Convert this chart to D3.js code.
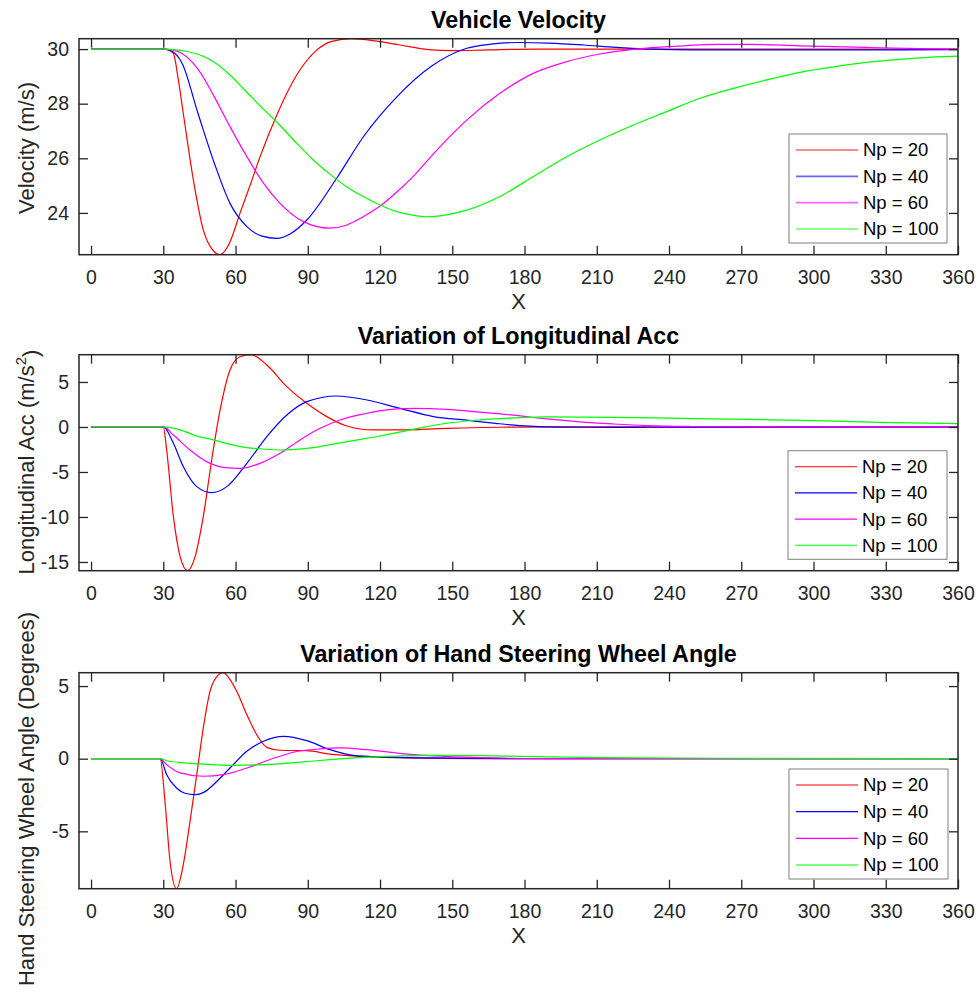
<!DOCTYPE html>
<html>
<head>
<meta charset="utf-8">
<script src="https://cdn.jsdelivr.net/npm/d3@7"></script>
<style>
  html, body { margin: 0; padding: 0; background: #fff; }
  svg { display: block; font-family: "Liberation Sans", Arial, Helvetica, sans-serif; }
</style>
</head>
<body>
<svg id="chart" width="979" height="1003"></svg>
<script>
// ---- data --------------------------------------------------------------
const seriesNames = ["Np = 20", "Np = 40", "Np = 60", "Np = 100"];
const seriesColors = ["#ff0000", "#0000ff", "#ff00ff", "#00ff00"];
const xTicks = [0, 30, 60, 90, 120, 150, 180, 210, 240, 270, 300, 330, 360];

// Vehicle velocity (m/s)
const velNp20 = [[0,30],[30,30],[32,29.97],[34.2,29.84],[36.2,28.9],[38.3,27.65],[42.5,25.2],[46.6,23.38],[50,22.7],[53.6,22.47],[57.5,22.9],[61.9,24.0],[66,25.0],[70.2,26.06],[77.1,27.58],[85.4,29.05],[93.7,29.96],[100,30.28],[108,30.38],[118,30.3],[128.3,30.15],[140,29.98],[150,29.94],[165,29.97],[185,30.0],[360,30]];
const velNp40 = [[0,30],[30,30],[33,29.95],[37.8,29.48],[44.4,27.65],[51.2,25.82],[57.7,24.35],[64.7,23.5],[71,23.15],[77.1,23.07],[83,23.25],[89.6,23.74],[102,25.27],[113.1,26.79],[127,28.25],[141,29.35],[156,30.03],[166,30.18],[176.8,30.24],[190,30.22],[204.4,30.15],[218,30.06],[232,30.0],[250,29.97],[300,29.97],[360,29.98]];
const velNp60 = [[0,30],[30,30],[33,29.98],[37.8,29.84],[44.7,29.23],[51.2,28.25],[57.7,27.16],[64.7,26.06],[71.6,25.09],[78.5,24.35],[88.2,23.68],[99.2,23.44],[106,23.55],[113,23.86],[120,24.25],[128,24.85],[135,25.45],[141.5,26.1],[156,27.4],[169.8,28.38],[183.6,29.11],[197.5,29.54],[211.3,29.82],[225,29.99],[246,30.12],[260,30.17],[274,30.17],[294,30.12],[322,30.06],[344,30.02],[360,30.0]];
const velNp100 = [[0,30],[30,30],[36,29.96],[40,29.91],[44.7,29.8],[51.2,29.52],[57.7,29.05],[64.7,28.42],[71.6,27.8],[78.5,27.2],[85.4,26.55],[92.3,25.94],[99.2,25.42],[106.1,24.96],[113,24.6],[120,24.29],[127,24.05],[133,23.93],[139.4,23.86],[147,23.92],[156,24.1],[169.8,24.6],[183.6,25.33],[197.5,26.06],[211.3,26.67],[225.2,27.22],[239,27.71],[252.9,28.2],[266.7,28.56],[280.6,28.87],[294.4,29.15],[308.3,29.35],[322,29.51],[344.3,29.68],[360,29.74]];
const velTicks = [24, 26, 28, 30];

// Longitudinal acceleration (m/s^2)
const accNp20 = [[0,0],[30,0],[31.4,-2.56],[34.2,-9.96],[37,-14.4],[40.1,-15.97],[43.2,-14.4],[46.6,-9.96],[50.1,-3.67],[53.6,1.89],[57.7,6.33],[61.9,7.8],[66.4,8.03],[73,6.89],[81.3,4.48],[89.6,2.63],[97.9,1.15],[106.2,0.11],[117.2,-0.33],[127,-0.33],[147.7,-0.15],[170,-0.03],[200,0],[360,0]];
const accNp40 = [[0,0],[30,0],[34.2,-1.81],[38.3,-4.4],[43.9,-6.63],[50.1,-7.3],[56.4,-6.63],[64.7,-4.04],[73,-1.07],[81.3,1.33],[89.6,2.81],[102,3.44],[114.5,3.0],[128.3,2.07],[142.2,1.15],[156,0.75],[168,0.4],[178,0.15],[195,-0.02],[220,-0.04],[260,-0.02],[360,0]];
const accNp60 = [[0,0],[30,0],[34.2,-0.89],[41.1,-2.56],[48,-3.85],[55,-4.48],[61.9,-4.6],[70.2,-4.04],[78.5,-2.93],[86.8,-1.44],[95.1,-0.15],[103.4,0.78],[113.1,1.44],[127,2.0],[134,2.07],[147.7,1.96],[161.5,1.66],[175.4,1.32],[189.2,0.89],[203,0.56],[216.9,0.33],[230.8,0.15],[250,0.05],[280,0],[360,0]];
const accNp100 = [[0,0],[30,0],[37,-0.33],[43.9,-1.0],[50.8,-1.44],[57.7,-1.93],[64.7,-2.3],[73,-2.48],[78.5,-2.56],[92.3,-2.3],[106.2,-1.63],[120,-1.0],[133.8,-0.26],[147.7,0.41],[161.5,0.78],[178.2,1.04],[189.2,1.12],[216.9,1.07],[244.6,0.96],[272.3,0.85],[300,0.7],[327.7,0.52],[360,0.37]];
const accTicks = [-15, -10, -5, 0, 5];

// Hand steering wheel angle (degrees)
const hswNp20 = [[0,0],[28.7,0],[30.7,-2.93],[32.8,-7.06],[35.5,-8.95],[38.3,-7.3],[41.1,-4.31],[43.9,-1.1],[46.6,2.11],[49.4,4.64],[52,5.6],[54.9,5.92],[57.5,5.5],[60.5,4.64],[64.7,3.03],[68.8,1.65],[73,0.78],[78.5,0.58],[89.6,0.55],[99.2,0.32],[113,0.16],[130,0.05],[160,0],[360,0]];
const hswNp40 = [[0,0],[28.7,0],[31.4,-1.1],[35.5,-2.02],[39,-2.38],[43.2,-2.48],[47,-2.3],[50.8,-1.79],[57.7,-0.64],[64.7,0.51],[71.6,1.2],[80,1.54],[89.6,1.24],[99.2,0.62],[108.9,0.23],[120,0.12],[140,0.05],[180,0],[360,0]];
const hswNp60 = [[0,0],[28.7,0],[31.4,-0.41],[37,-0.98],[46.6,-1.21],[54.9,-1.1],[64.7,-0.64],[76.2,0.05],[85.9,0.51],[95.1,0.67],[103.4,0.74],[114.5,0.62],[127,0.39],[140.8,0.21],[161.5,0.07],[190,0.01],[360,0]];
const hswNp100 = [[0,0],[28.7,0],[31.4,-0.14],[37,-0.25],[50.8,-0.41],[59.4,-0.46],[71.6,-0.41],[85.9,-0.25],[99.2,-0.07],[113,0.09],[127,0.18],[140.8,0.23],[161.5,0.21],[178.2,0.16],[210,0.08],[260,0.03],[360,0.01]];
const hswTicks = [-5, 0, 5];

// ---- layout ------------------------------------------------------------
const svg = d3.select("#chart");
const axisColor = "#262626";
const plotLeft = 79, plotRight = 958;
const xDomain = [-5, 360];
const tickLen = 9;

const panels = [
  { title: "Vehicle Velocity", ylabel: ["Velocity (m/s)"], top: 38.7, bottom: 254.7,
    series: [velNp20, velNp40, velNp60, velNp100], yTicks: velTicks,
    titleY: 28, labelX: 34, labelY: 148,
    legend: { x: 789, y: 134, w: 158, h: 109, faded: true } },
  { title: "Variation of Longitudinal Acc", ylabel: ["Longitudinal Acc (m/s", "2", ")"], top: 354.7, bottom: 570.7,
    series: [accNp20, accNp40, accNp60, accNp100], yTicks: accTicks,
    titleY: 344, labelX: 34, labelY: 462,
    legend: { x: 788, y: 450.7, w: 159, h: 108.6, faded: false } },
  { title: "Variation of Hand Steering Wheel Angle", ylabel: ["Hand Steering Wheel Angle (Degrees)"], top: 672.7, bottom: 888.7,
    series: [hswNp20, hswNp40, hswNp60, hswNp100], yTicks: hswTicks,
    titleY: 662, labelX: 34, labelY: 799,
    legend: { x: 789, y: 769, w: 159, h: 110, faded: false } }
];

const x = d3.scaleLinear().domain(xDomain).range([plotLeft, plotRight]);
const defs = svg.append("defs");

panels.forEach((p, i) => {
  const all = p.series.flat();
  const y = d3.scaleLinear().domain(d3.extent(all, d => d[1])).range([p.bottom, p.top]);
  const g = svg.append("g");

  // clip region for the traces
  defs.append("clipPath").attr("id", "clip" + i)
    .append("rect").attr("x", plotLeft).attr("y", p.top)
    .attr("width", plotRight - plotLeft).attr("height", p.bottom - p.top);

  // traces (monotone interpolation keeps flat stretches flat)
  const line = d3.line().x(d => x(d[0])).y(d => y(d[1])).curve(d3.curveMonotoneX);
  const traces = g.append("g").attr("clip-path", `url(#clip${i})`);
  p.series.forEach((s, k) => {
    traces.append("path").datum(s)
      .attr("d", line)
      .attr("fill", "none")
      .attr("stroke", seriesColors[k])
      .attr("stroke-width", 1.2)
      .attr("stroke-linejoin", "round");
  });

  // axes: bottom/left with labels, top/right mirrored ticks only
  const fmt = d => String(d);
  const xAxisB = d3.axisBottom(x).tickValues(xTicks).tickFormat(fmt).tickSizeInner(-tickLen).tickSizeOuter(0).tickPadding(15);
  const xAxisT = d3.axisTop(x).tickValues(xTicks).tickSizeInner(-tickLen).tickSizeOuter(0).tickFormat("");
  const yAxisL = d3.axisLeft(y).tickValues(p.yTicks).tickFormat(fmt).tickSizeInner(-tickLen).tickSizeOuter(0).tickPadding(10);
  const yAxisR = d3.axisRight(y).tickValues(p.yTicks).tickSizeInner(-tickLen).tickSizeOuter(0).tickFormat("");

  const styleAxis = sel => {
    sel.select(".domain").remove();
    sel.selectAll(".tick line").attr("stroke", axisColor).attr("stroke-width", 1.3);
    sel.selectAll(".tick text").attr("fill", axisColor)
      .style("font-family", '"Liberation Sans", Arial, sans-serif').style("font-size", "19.5px");
  };
  g.append("g").attr("transform", `translate(0,${p.bottom})`).call(xAxisB).call(styleAxis);
  g.append("g").attr("transform", `translate(0,${p.top})`).call(xAxisT).call(styleAxis);
  g.append("g").attr("transform", `translate(${plotLeft},0)`).call(yAxisL).call(styleAxis);
  g.append("g").attr("transform", `translate(${plotRight},0)`).call(yAxisR).call(styleAxis);

  // box
  g.append("rect").attr("x", plotLeft).attr("y", p.top)
    .attr("width", plotRight - plotLeft).attr("height", p.bottom - p.top)
    .attr("fill", "none").attr("stroke", axisColor).attr("stroke-width", 1.5);

  // title
  g.append("text").attr("x", (plotLeft + plotRight) / 2).attr("y", p.titleY)
    .attr("text-anchor", "middle").attr("font-weight", "bold")
    .style("font-size", "23.3px").attr("fill", "#000").text(p.title);

  // x label
  g.append("text").attr("x", (plotLeft + plotRight) / 2).attr("y", p.bottom + 54)
    .attr("text-anchor", "middle").style("font-size", "22px").attr("fill", axisColor).text("X");

  // y label
  const yl = g.append("text")
    .attr("transform", `translate(${p.labelX},${p.labelY}) rotate(-90)`)
    .attr("text-anchor", "middle").style("font-size", "22px").attr("fill", axisColor);
  yl.append("tspan").text(p.ylabel[0]);
  if (p.ylabel.length > 1) {
    yl.append("tspan").attr("dy", "-0.55em").style("font-size", "15px").text(p.ylabel[1]);
    yl.append("tspan").attr("dy", "0.55em").text(p.ylabel[2]);
  }

  // legend
  const L = p.legend;
  const lg = g.append("g");
  lg.append("rect").attr("x", L.x).attr("y", L.y).attr("width", L.w).attr("height", L.h)
    .attr("fill", "#fff").attr("stroke", "#7f7f7f").attr("stroke-width", 1);
  const rowH = (L.h - 30) / 3;
  seriesNames.forEach((name, k) => {
    const ry = L.y + 16 + k * rowH;
    lg.append("line").attr("x1", L.x + 7).attr("x2", L.x + 69).attr("y1", ry).attr("y2", ry)
      .attr("stroke", seriesColors[k])
      .attr("stroke-width", L.faded ? 1.6 : 1.1)
      .attr("stroke-opacity", L.faded ? 0.6 : 1);
    lg.append("text").attr("x", L.x + 74).attr("y", ry).attr("dy", "0.35em")
      .style("font-size", "18.5px").attr("fill", "#000").text(name);
  });
});
</script>
</body>
</html>
